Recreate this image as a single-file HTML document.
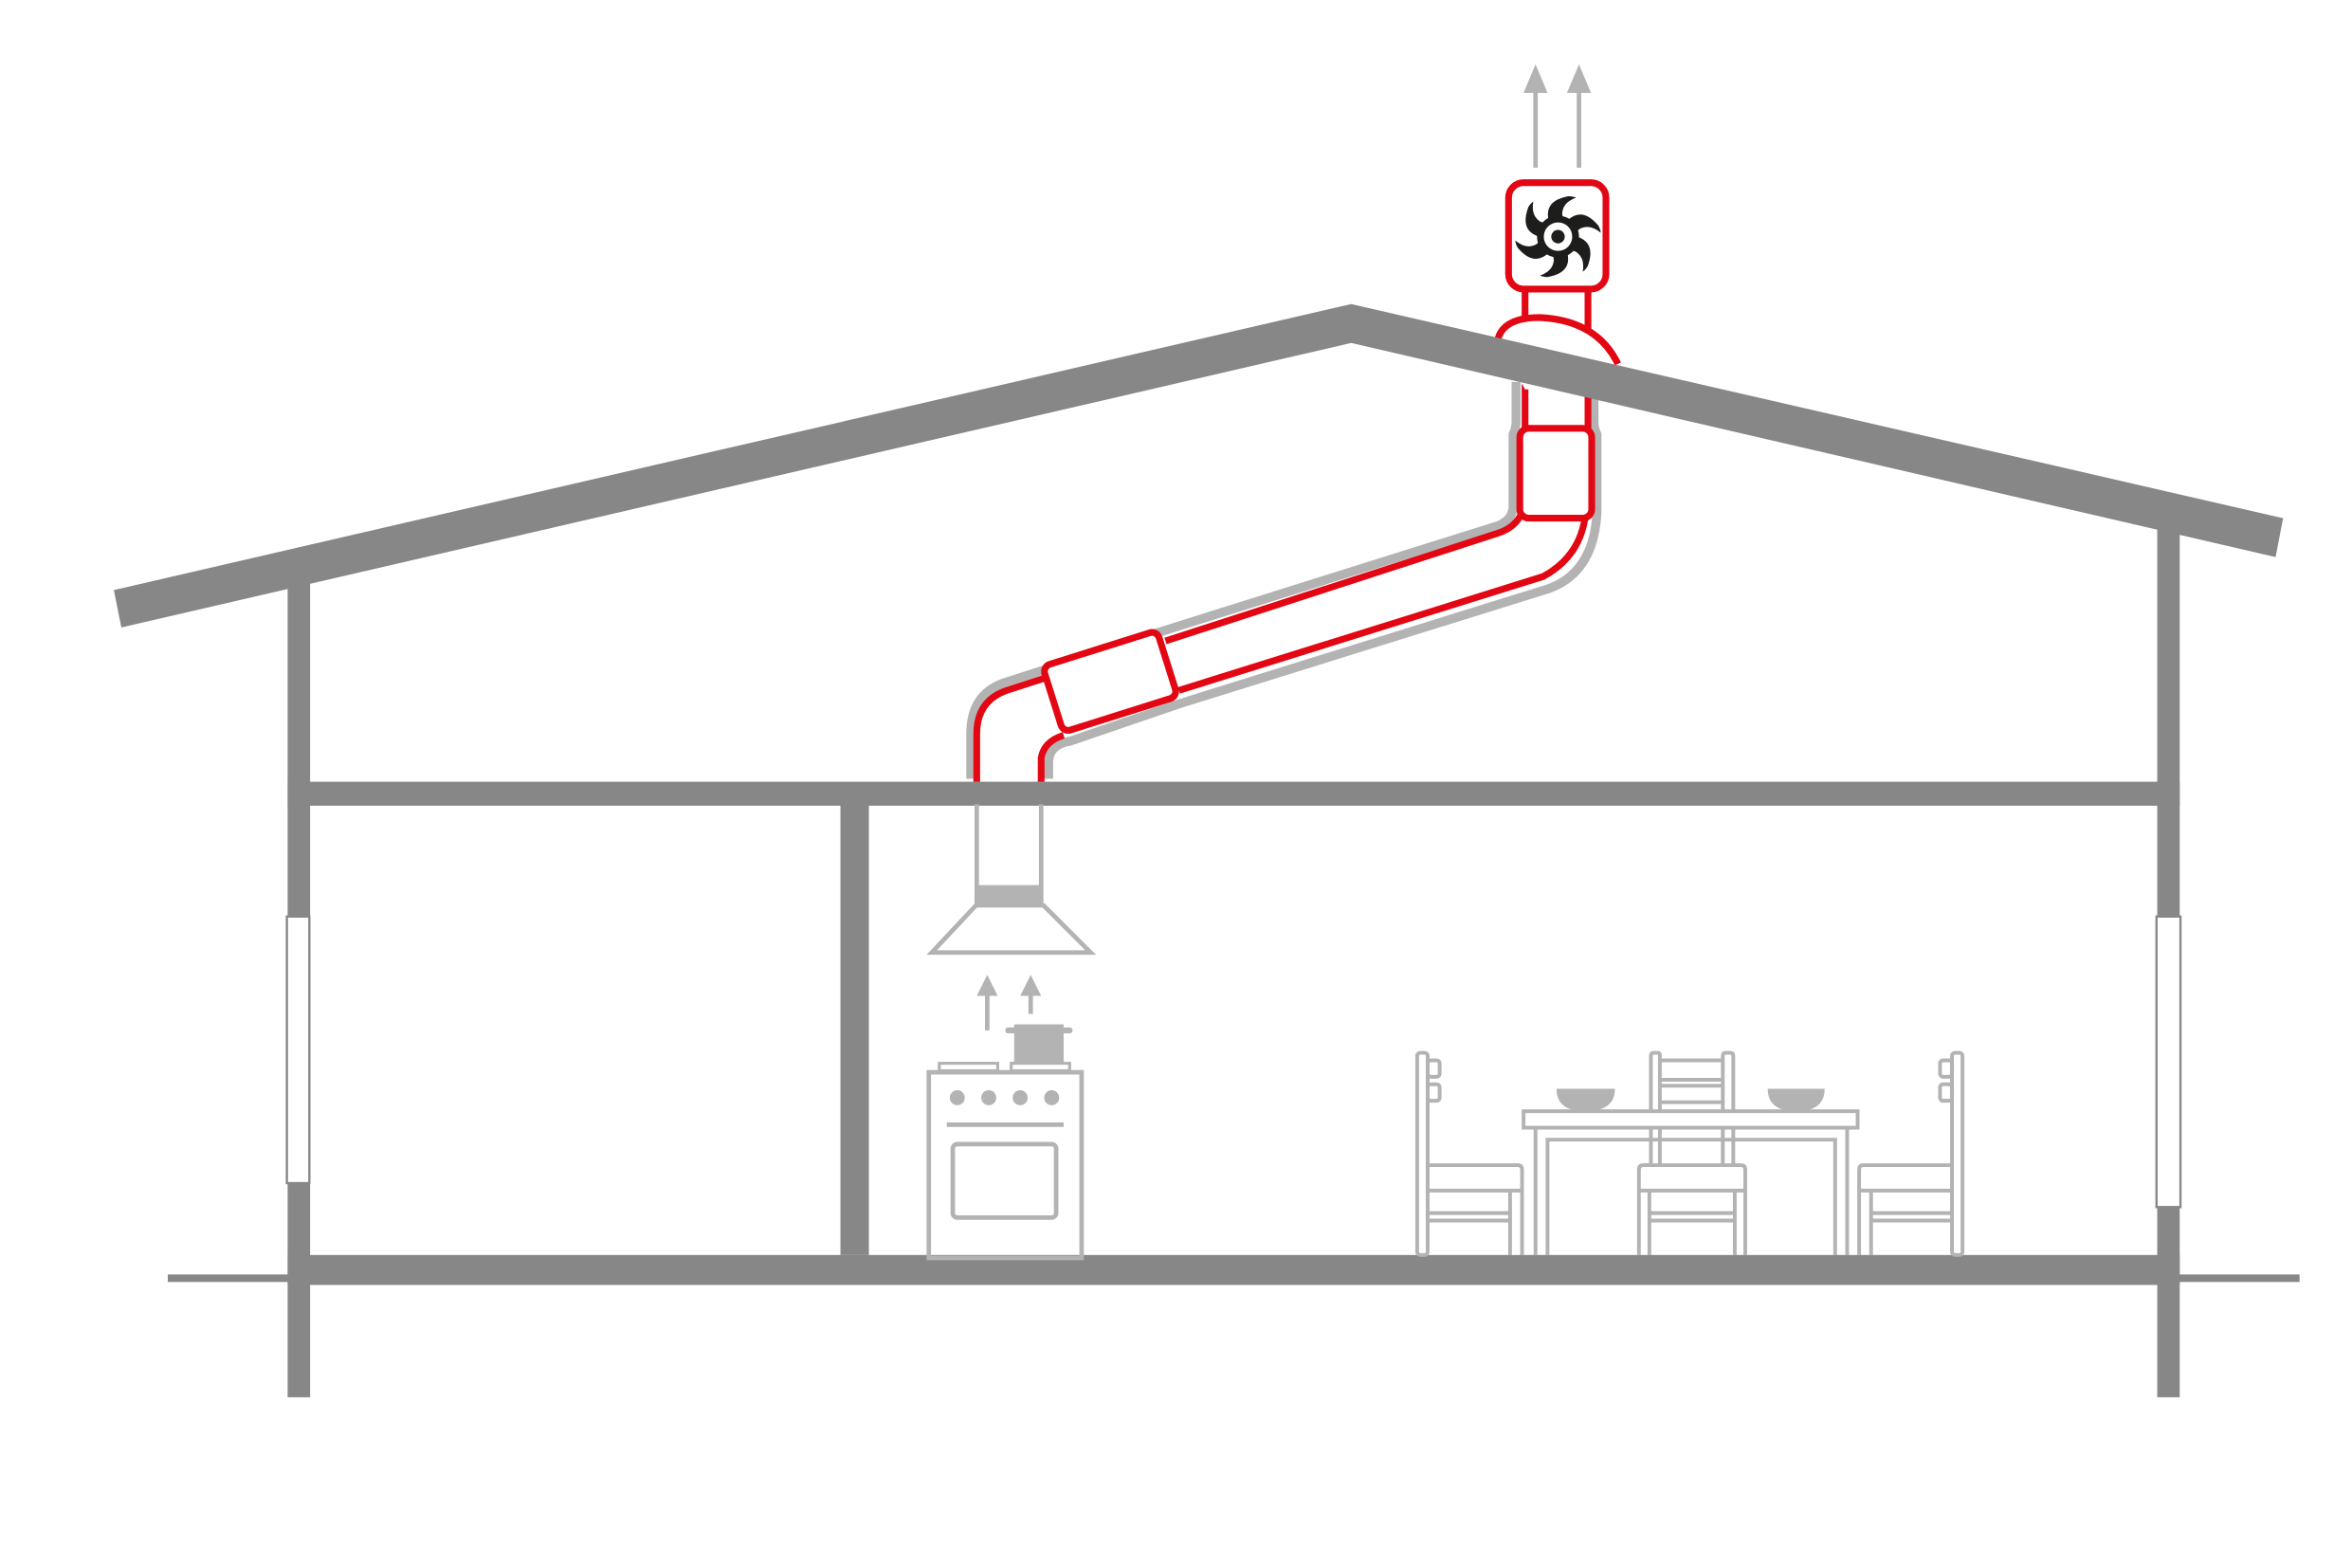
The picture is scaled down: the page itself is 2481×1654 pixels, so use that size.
<!DOCTYPE html>
<html><head><meta charset="utf-8"><style>html,body{margin:0;padding:0;background:#fff}svg{display:block}</style></head>
<body>
<svg width="2481" height="1654" viewBox="0 0 1570 1047" preserveAspectRatio="none" xmlns="http://www.w3.org/2000/svg">
<rect width="1570" height="1047" fill="#fff"/>
<!-- ground lines -->
<rect x="112" y="851" width="82" height="5" fill="#878787"/>
<rect x="1454" y="851" width="81" height="5" fill="#878787"/>
<!-- walls -->
<rect x="192" y="385" width="15" height="548" fill="#878787"/>
<rect x="1440" y="350" width="15" height="583" fill="#878787"/>
<rect x="192" y="522" width="1263" height="16" fill="#878787"/>
<rect x="192" y="838" width="1263" height="20" fill="#878787"/>
<rect x="561" y="537" width="19" height="301" fill="#878787"/>
<!-- windows -->
<rect x="191.5" y="612" width="15" height="178" fill="#fff" stroke="#878787" stroke-width="1.5"/>
<rect x="1439.5" y="612" width="16" height="194" fill="#fff" stroke="#878787" stroke-width="1.5"/>

<!-- duct gray shadow -->
<g fill="none" stroke="#b3b3b3" stroke-width="6" stroke-linejoin="round">
<path d="M648 520 V490 Q648 464 670 456 L698 447 L771 423 L1000 351 Q1010 347 1010 338 V290 Q1012 286 1012 282 V255" />
<path d="M700 520 V508 Q701 497 714 495 L787 470 L1034 393 Q1064 382 1066 342 V290 Q1064 286 1064 282 V262"/>
</g>
<!-- hood -->
<g fill="none" stroke="#b3b3b3" stroke-width="3">
<line x1="652" y1="537" x2="652" y2="605"/>
<line x1="695" y1="537" x2="695" y2="605"/>
<path d="M652 604 L622 636 H728 L696 604"/>
</g>
<rect x="652" y="591" width="44" height="15" fill="#b3b3b3"/>
<!-- duct red -->
<g fill="none" stroke="#e30613" stroke-width="4.5" stroke-linejoin="round">
<path d="M652 522 V490 Q652 468 672 461 L700 452"/>
<path d="M695 522 V506 Q697 495 710 491"/>
<path d="M778 428 L1000 356 Q1012 352 1016 342"/>
<path d="M787 461 L1030 385 Q1054 372 1058 346"/>
<rect x="701" y="432" width="80" height="46" rx="5" fill="#fff" transform="rotate(-17.5 741 455)"/>
<rect x="1014.5" y="286" width="48" height="60" rx="6" fill="#fff"/>
<line x1="1018" y1="193" x2="1018" y2="286"/>
<line x1="1060" y1="193" x2="1060" y2="286"/>
<path d="M1000 228 Q1004 212 1028 212 Q1066 214 1080 245 L1060 260 L1018 260 Z" fill="#fff" stroke="none"/>
<path d="M1000 226 Q1004 212 1028 212 Q1066 214 1080 243"/>
<rect x="1007" y="122" width="65" height="71" rx="10" fill="#fff"/>
</g>
<!-- roof -->
<polygon points="76,394 902,203 1524,346 1519,372 902,229 81,419" fill="#878787"/>
<!-- fan -->
<g transform="translate(1040,158)">
<g fill="#1d1d1b">
<path id="bl" d="M-6 -10 Q-10 -24 7 -27 Q10 -27 12 -26 Q4 -23 3 -17 Q2 -13 6 -10 Z"/>
<use href="#bl" transform="rotate(60)"/>
<use href="#bl" transform="rotate(120)"/>
<use href="#bl" transform="rotate(180)"/>
<use href="#bl" transform="rotate(240)"/>
<use href="#bl" transform="rotate(300)"/>
<circle r="14"/>
</g>
<circle r="9.5" fill="#fff"/>
<circle r="4.5" fill="#1d1d1b"/>
</g>
<!-- top arrows -->
<g stroke="#b3b3b3" stroke-width="3"><line x1="1025" y1="112" x2="1025" y2="58"/><line x1="1054" y1="112" x2="1054" y2="58"/>
<line x1="659" y1="688" x2="659" y2="662"/><line x1="688" y1="677" x2="688" y2="662"/></g>
<g fill="#b3b3b3"><polygon points="1025,43 1017,62 1033,62"/><polygon points="1054,43 1046,62 1062,62"/>
<polygon points="659,651 652,665 666,665"/><polygon points="688,651 681,665 695,665"/></g>
<!-- stove -->
<g fill="none" stroke="#b3b3b3" stroke-width="3">
<rect x="620" y="716" width="102" height="124"/>
<rect x="636" y="764" width="69" height="49" rx="3"/>
<line x1="632" y1="751" x2="710" y2="751"/>
<rect x="627" y="710" width="39" height="5" stroke-width="2"/>
<rect x="675" y="710" width="39" height="5" stroke-width="2"/>
</g>
<g fill="#b3b3b3"><circle cx="639" cy="733" r="5"/><circle cx="660" cy="733" r="5"/><circle cx="681" cy="733" r="5"/><circle cx="702" cy="733" r="5"/>
<rect x="677" y="684" width="33" height="26"/><rect x="671" y="686" width="45" height="4" rx="2"/>
<path d="M1039 727 H1078 Q1078 742 1058 742 Q1039 742 1039 727Z"/><path d="M1180 727 H1218 Q1218 742 1199 742 Q1180 742 1180 727Z"/></g>
<!-- table & chairs -->
<g fill="none" stroke="#b3b3b3" stroke-width="2.5">
<rect x="1017" y="742" width="223" height="11"/>
<path d="M1025 753 V838 M1233 753 V838"/>
<path d="M1033 838 V761 H1225 V838"/>
<rect x="946" y="703" width="7" height="135" rx="2"/>
<rect x="953" y="708" width="8" height="11" rx="2"/><rect x="953" y="724" width="8" height="11" rx="2"/>
<path d="M953 778 H1013 Q1016 778 1016 781 V838 M953 795 H1016 M1008 795 V838 M953 810 H1008 M953 815 H1008"/>
<path d="M1102 742 V705 Q1102 703 1104 703 H1107 Q1108 703 1108 705 V742 M1102 753 V777 M1108 753 V777"/>
<path d="M1150 742 V705 Q1150 703 1152 703 H1155 Q1157 703 1157 705 V742 M1150 753 V777 M1157 753 V777"/>
<path d="M1108 708 H1150 M1108 721 H1150 M1108 725 H1150 M1108 736 H1150"/>
<path d="M1094 838 V781 Q1094 778 1097 778 H1162 Q1165 778 1165 781 V838 M1094 795 H1165 M1101 795 V838 M1158 795 V838 M1101 810 H1158 M1101 815 H1158"/>
<rect x="1303" y="703" width="7" height="135" rx="2"/>
<rect x="1295" y="708" width="8" height="11" rx="2"/><rect x="1295" y="724" width="8" height="11" rx="2"/>
<path d="M1303 778 H1244 Q1241 778 1241 781 V838 M1241 795 H1303 M1249 795 V838 M1249 810 H1303 M1249 815 H1303"/>
</g>
</svg>
</body></html>
